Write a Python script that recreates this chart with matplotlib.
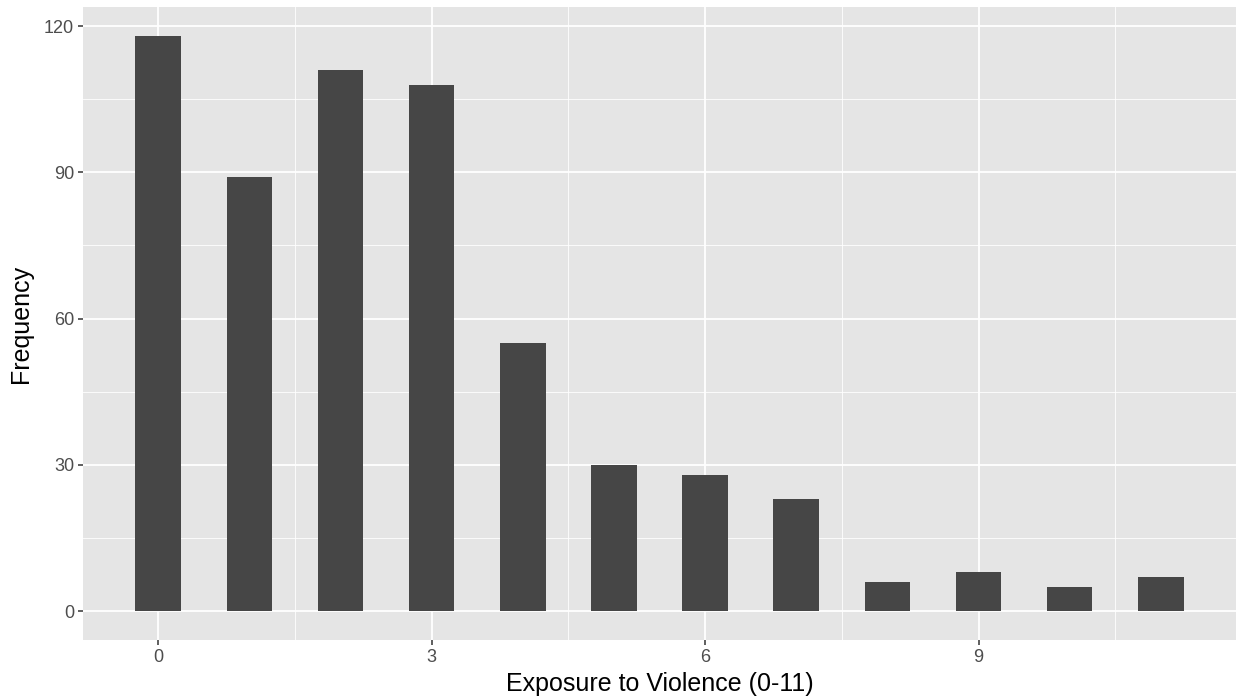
import matplotlib
matplotlib.use("Agg")
import matplotlib.pyplot as plt
import numpy as np

# exposure score and number of respondents
exposure = [0, 1, 2, 3, 4, 5, 6, 7, 8, 9, 10, 11]
frequency = [118, 89, 111, 108, 55, 30, 28, 23, 6, 8, 5, 7]
x_ticks = [0, 3, 6, 9]
y_ticks = [0, 30, 60, 90, 120]

BG = "#E5E5E5"
BAR = "#464646"
TEXT = "#4D4D4D"

plt.rcParams["font.family"] = ["Liberation Sans", "DejaVu Sans"]

fig = plt.figure(figsize=(12.4, 6.98), dpi=100)
ax = fig.add_axes([83 / 1240, 1 - 640 / 698, (1236 - 83) / 1240, (640 - 7) / 698])
ax.set_facecolor(BG)

ax.bar(exposure, frequency, width=0.5, color=BAR, zorder=3)

# ggplot-style 5% expansion
xlo, xhi = -0.25, 11.25
xpad = 0.05 * (xhi - xlo)
ax.set_xlim(xlo - xpad, xhi + xpad)
ypad = 0.05 * max(frequency)
ax.set_ylim(-ypad, max(frequency) + ypad)

ax.set_xticks(x_ticks)
ax.set_yticks(y_ticks)
ax.set_xticks([1.5, 4.5, 7.5, 10.5], minor=True)
ax.set_yticks([15, 45, 75, 105], minor=True)
ax.grid(which="major", color="white", linewidth=1.3, zorder=1)
ax.grid(which="minor", color="white", linewidth=0.6, zorder=1)
ax.tick_params(which="minor", length=0)
ax.tick_params(which="major", length=3.5, width=1.1, color="#333333",
               labelsize=13, labelcolor=TEXT, pad=3)
for s in ax.spines.values():
    s.set_visible(False)
ax.set_axisbelow(True)

ax.set_xlabel("Exposure to Violence (0-11)", fontsize=18, color="black", labelpad=4)
ax.set_ylabel("Frequency", fontsize=18, color="black", labelpad=8)

fig.savefig("out.png", dpi=100)
